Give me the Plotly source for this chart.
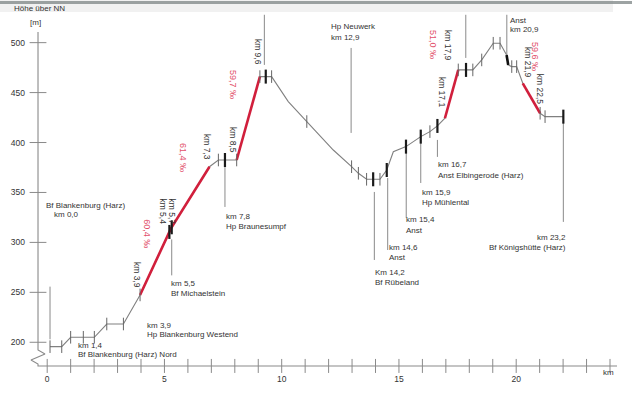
import numpy as np
import plotly.graph_objects as go

# ---------------- data ----------------
profile_km = [0.12, 0.62, 1.00, 2.01, 2.54, 3.25, 3.96, 5.28, 6.92, 7.30, 8.08, 9.07, 9.57,
              10.28, 11.07, 12.20, 12.98, 13.27, 13.62, 14.19, 14.48, 14.76, 15.30, 15.93,
              16.32, 16.64, 16.96, 17.53, 18.15, 18.53, 19.02, 19.31, 19.59, 19.66, 19.81,
              20.02, 20.28, 21.02, 21.23, 22.01]
profile_h = [195.6, 195.6, 205.0, 205.0, 218.3, 218.3, 247.4, 314.0, 375.8, 382.5, 382.5, 466.0,
             466.0, 441.0, 421.0, 392.5, 375.8, 369.2, 363.2, 363.2, 372.5, 390.8, 395.9, 405.9,
             410.9, 416.6, 424.3, 472.7, 472.7, 482.7, 499.4, 499.4, 487.7, 477.7, 476.0,
             476.0, 459.3, 429.3, 425.9, 425.9]

# steep sections (index ranges into the profile)
steep_sections = [(6, 8), (10, 11), (26, 27), (36, 37)]
bold_sections = [(32, 33)]

ticks_thin_km = [0.12, 0.62, 1.00, 1.54, 2.01, 2.54, 3.25, 3.96, 7.30, 8.08, 9.07, 9.57, 11.07,
                 12.98, 13.27, 13.62, 14.19, 16.32, 17.53, 18.15, 18.53, 19.02, 19.31, 19.81,
                 20.02, 21.02, 21.23]
ticks_bold_km = [5.21, 5.31, 7.58, 9.32, 13.90, 14.48, 15.30, 15.93, 16.64, 17.86, 22.01]

# station pointer lines: km position, upper and lower height (m)
station_line_km = [0.12, 5.31, 7.58, 9.26, 12.96, 13.95, 14.52, 15.31, 15.93, 16.64, 17.85, 19.60, 22.01]
station_line_top = [255.7, 303.0, 377.5, 527.9, 494.7, 350.5, 364.5, 389.5, 399.6, 402.6, 527.9, 527.9, 420.6]
station_line_bot = [203.0, 267.0, 335.5, 477.7, 409.6, 282.4, 292.4, 324.5, 359.5, 385.6, 484.7, 487.7, 320.5]

y_tick_vals = [200, 250, 300, 350, 400, 450, 500]
x_tick_vals = [0, 5, 10, 15, 20]
x_minor_ticks = list(range(0, 25))

# horizontal station labels: (text, km, height, anchor)
station_labels = [
    ("Bf Blankenburg (Harz)", -0.09, 336.5, "left"),
    ("km 0,0", 0.26, 327.5, "left"),
    ("km 1,4", 1.28, 196.8, "left"),
    ("Bf Blankenburg (Harz) Nord", 1.28, 187.8, "left"),
    ("km 3,9", 4.20, 216.6, "left"),
    ("Hp Blankenburg Westend", 4.20, 207.3, "left"),
    ("km 5,5", 5.24, 258.4, "left"),
    ("Bf Michaelstein", 5.24, 249.0, "left"),
    ("km 7,8", 7.58, 325.8, "left"),
    ("Hp Braunesumpf", 7.58, 315.7, "left"),
    ("Hp Neuwerk", 12.06, 516.0, "left"),
    ("km 12,9", 12.06, 505.0, "left"),
    ("km 16,7", 16.61, 377.5, "left"),
    ("Anst Elbingerode (Harz)", 16.61, 367.2, "left"),
    ("km 15,9", 15.94, 349.8, "left"),
    ("Hp Mühlental", 15.94, 339.5, "left"),
    ("km 15,4", 15.26, 322.5, "left"),
    ("Anst", 15.26, 311.7, "left"),
    ("km 14,6", 14.52, 295.1, "left"),
    ("Anst", 14.52, 284.7, "left"),
    ("Km 14,2", 13.95, 269.7, "left"),
    ("Bf Rübeland", 13.95, 260.1, "left"),
    ("Anst", 19.71, 522.0, "left"),
    ("km 20,9", 19.71, 512.7, "left"),
    ("km 23,2", 22.17, 305.4, "right"),
    ("Bf Königshütte (Harz)", 22.17, 294.7, "right"),
]

# rotated km labels and gradient labels: (text, km, height)
km_labels_rot = [
    ("km 3,9", 3.83, 267.4), ("km 5,4", 4.94, 331.0), ("km 5,7", 5.32, 331.0),
    ("km 7,3", 6.81, 395.6), ("km 8,5", 7.92, 402.6), ("km 9,6", 8.99, 490.7),
    ("km 17,1", 16.84, 450.6), ("km 17,9", 17.09, 496.7),
    ("km 21,9", 20.50, 479.7), ("km 22,5", 21.02, 453.7),
]
gradient_labels = [
    ("60,4 ‰", 4.25, 308.4), ("61,4 ‰", 5.79, 384.5), ("59,7 ‰", 7.92, 457.6),
    ("51,0 ‰", 16.45, 497.7), ("59,6 ‰", 20.80, 485.6),
]

# ---------------- styling ----------------
W, H = 632, 401
FONT = "Liberation Sans, Arial, Helvetica, sans-serif"
TXT = "#333333"
LINE_GREY = "#808080"
RED = "#d11f3c"
RED_TXT = "#e2506a"
LBL = 8

AX_KM = -0.392      # position of the vertical axis
AX_H = 176.3        # height of the horizontal axis
X_RANGE = [-2.013, 24.938]
Y_RANGE = [141.2, 542.7]

fig = go.Figure()

fig.add_trace(go.Scatter(x=profile_km, y=profile_h, mode="lines",
                         line=dict(color=LINE_GREY, width=1.1), hoverinfo="skip"))
for a, b in steep_sections:
    fig.add_trace(go.Scatter(x=profile_km[a:b + 1], y=profile_h[a:b + 1], mode="lines",
                             line=dict(color=RED, width=2.6), hoverinfo="skip"))
for a, b in bold_sections:
    fig.add_trace(go.Scatter(x=profile_km[a:b + 1], y=profile_h[a:b + 1], mode="lines",
                             line=dict(color="#111111", width=2.6), hoverinfo="skip"))

for k, t, b in zip(station_line_km, station_line_top, station_line_bot):
    fig.add_trace(go.Scatter(x=[k, k], y=[t, b], mode="lines",
                             line=dict(color="#8a8a8a", width=1), hoverinfo="skip"))

fig.add_trace(go.Scatter(x=ticks_thin_km, y=np.interp(ticks_thin_km, profile_km, profile_h),
                         mode="markers", cliponaxis=False, hoverinfo="skip",
                         marker=dict(symbol="line-ns", size=9,
                                     line=dict(color="#666666", width=1))))
fig.add_trace(go.Scatter(x=ticks_bold_km, y=np.interp(ticks_bold_km, profile_km, profile_h),
                         mode="markers", cliponaxis=False, hoverinfo="skip",
                         marker=dict(symbol="line-ns", size=10,
                                     line=dict(color="#1a1a1a", width=2.2))))

fig.add_trace(go.Scatter(x=[AX_KM, AX_KM, -0.094, -0.691, AX_KM, AX_KM, 24.3],
                         y=[510.7, 192.3, 188.3, 182.2, 178.3, AX_H, AX_H], mode="lines",
                         line=dict(color="#8a8a8a", width=1.1), hoverinfo="skip"))
fig.add_trace(go.Scatter(x=x_minor_ticks, y=[AX_H] * len(x_minor_ticks), mode="markers",
                         hoverinfo="skip", cliponaxis=False,
                         marker=dict(symbol="line-ns", size=10, line=dict(color="#8a8a8a", width=1))))
fig.add_trace(go.Scatter(x=[AX_KM] * len(y_tick_vals), y=y_tick_vals, mode="markers",
                         hoverinfo="skip", cliponaxis=False,
                         marker=dict(symbol="line-ew", size=12, line=dict(color="#8a8a8a", width=1))))

annotations = []
for text, k, h, anc in station_labels:
    annotations.append(dict(x=k, y=h, xref="x", yref="y", text=text, showarrow=False,
                            xanchor=anc, yanchor="middle", borderpad=0,
                            font=dict(family=FONT, size=LBL, color=TXT)))
for text, k, h in km_labels_rot:
    annotations.append(dict(x=k, y=h, xref="x", yref="y", text=text, showarrow=False,
                            textangle=90, xanchor="center", yanchor="middle",
                            font=dict(family=FONT, size=8.5, color=TXT)))
for text, k, h in gradient_labels:
    annotations.append(dict(x=k, y=h, xref="x", yref="y", text=text, showarrow=False,
                            textangle=90, xanchor="center", yanchor="middle",
                            font=dict(family=FONT, size=9, color=RED_TXT)))
annotations += [
    dict(x=-1.514, y=534.4, xref="x", yref="y", text="Höhe über NN", showarrow=False,
         xanchor="left", yanchor="middle", font=dict(family=FONT, size=LBL, color=TXT)),
    dict(x=-0.52, y=520.0, xref="x", yref="y", text="[m]", showarrow=False,
         xanchor="center", yanchor="middle", font=dict(family=FONT, size=LBL, color=TXT)),
    dict(x=23.93, y=169.6, xref="x", yref="y", text="km", showarrow=False,
         xanchor="center", yanchor="middle", font=dict(family=FONT, size=LBL, color=TXT)),
]

fig.update_layout(
    width=W, height=H,
    margin=dict(l=0, r=0, t=0, b=0),
    paper_bgcolor="white", plot_bgcolor="white",
    showlegend=False,
    hovermode=False,
    annotations=annotations,
    shapes=[
        dict(type="rect", xref="paper", yref="paper", x0=0, x1=0.97, y0=1 - 12 / H, y1=1,
             fillcolor="#f1f1f1", line=dict(width=0), layer="below"),
        dict(type="rect", xref="paper", yref="paper", x0=0, x1=1, y0=1 - 4 / H, y1=1 - 1 / H,
             fillcolor="#7c8484", line=dict(width=0), layer="below", opacity=0.75),
    ],
    xaxis=dict(range=X_RANGE, showgrid=False, zeroline=False, showline=False, fixedrange=True,
               tickvals=x_tick_vals, ticks="", anchor="free", position=35 / H,
               ticklabelstandoff=6, tickfont=dict(family=FONT, size=8.5, color=TXT)),
    yaxis=dict(range=Y_RANGE, showgrid=False, zeroline=False, showline=False, fixedrange=True,
               tickvals=y_tick_vals, ticks="", anchor="free", position=38 / W,
               ticklabelstandoff=13, tickfont=dict(family=FONT, size=8.5, color=TXT)),
)

fig.write_html("out.html", config={"displayModeBar": False, "staticPlot": True},
               post_script="document.body.style.margin='0';document.body.style.overflow='hidden';")
